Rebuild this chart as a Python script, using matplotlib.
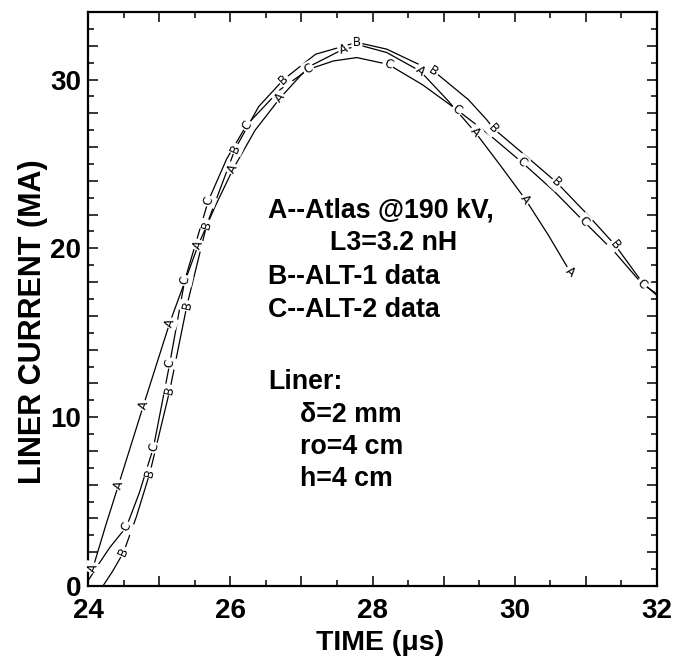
import numpy as np
import matplotlib
matplotlib.use("Agg")
import matplotlib.pyplot as plt

plt.rcParams['font.family'] = ['Liberation Sans', 'DejaVu Sans']

# ---- data ----
A_t = [24.05, 24.25, 24.43, 24.78, 25.15, 25.55, 25.80, 26.04, 26.35, 26.70, 27.10,
       27.59, 27.85, 28.20, 28.67, 29.05, 29.44, 29.80, 30.15, 30.47, 30.78]
A_i = [0.8, 3.6, 6.0, 10.7, 15.6, 20.2, 22.6, 24.7, 27.0, 28.9, 30.75,
       31.8, 32.0, 31.6, 30.5, 28.8, 26.9, 24.9, 22.9, 20.8, 18.6]

B_t = [24.21, 24.35, 24.50, 24.68, 24.87, 25.15, 25.39, 25.67, 26.07, 26.40, 26.75,
       27.20, 27.78, 28.20, 28.60, 28.86, 29.35, 29.61, 29.70, 30.15, 30.59, 31.00,
       31.41, 31.79, 32.00]
B_i = [0.0, 0.9, 2.0, 4.1, 6.7, 11.6, 16.6, 21.4, 25.9, 28.4, 30.0,
       31.5, 32.2, 31.8, 31.0, 30.5, 28.8, 27.6, 27.1, 25.5, 23.9, 22.1,
       20.2, 18.0, 17.2]

C_t = [24.00, 24.15, 24.31, 24.54, 24.72, 24.92, 25.15, 25.36, 25.69, 25.95, 26.23,
       26.70, 27.10, 27.45, 27.78, 28.22, 28.70, 29.19, 29.65, 30.10, 30.55, 30.97,
       31.40, 31.79, 32.00]
C_i = [0.3, 1.3, 2.3, 3.5, 5.5, 8.2, 13.2, 18.1, 22.8, 25.3, 27.3,
       29.4, 30.6, 31.1, 31.3, 30.9, 29.7, 28.2, 26.7, 25.1, 23.4, 21.6,
       19.8, 17.9, 17.3]

# positions (time) of the letter markers on each curve
A_marks = [24.07, 24.43, 24.78, 25.15, 25.55, 26.04, 26.70, 27.59, 28.67, 29.44, 30.15, 30.78]
B_marks = [24.50, 24.87, 25.15, 25.39, 25.67, 26.07, 26.75, 27.78, 28.86, 29.70, 30.59, 31.41]
C_marks = [24.54, 24.92, 25.15, 25.36, 25.69, 26.23, 27.10, 28.22, 29.19, 30.10, 30.97, 31.79]

x_tick_labels = ['24', '26', '28', '30', '32']
y_tick_labels = ['0', '10', '20', '30']

legend_lines = ['A--Atlas @190 kV,', 'L3=3.2 nH', 'B--ALT-1 data', 'C--ALT-2 data']
liner_lines = ['Liner:', '\u03b4=2 mm', 'ro=4 cm', 'h=4 cm']

# ---- figure ----
fig = plt.figure(figsize=(6.83, 6.66), dpi=100)
ax = fig.add_axes([88 / 683, 80 / 666, 569 / 683, 574 / 666])
ax.set_xlim(24, 32)
ax.set_ylim(0, 34)

series = [('A', A_t, A_i, A_marks), ('B', B_t, B_i, B_marks), ('C', C_t, C_i, C_marks)]
for name, t, i, marks in series:
    ax.plot(t, i, color='black', lw=0.9, zorder=2, solid_capstyle='butt')
    t = np.asarray(t)
    i = np.asarray(i)
    for m in marks:
        y = np.interp(m, t, i)
        h = 0.03
        y1 = np.interp(m - h, t, i)
        y2 = np.interp(m + h, t, i)
        ang = np.degrees(np.arctan2(y2 - y1, 2 * h))
        ax.text(m, y, name, fontsize=8.5, fontweight='normal', family=['DejaVu Sans'],
                ha='center', va='center', rotation=ang, rotation_mode='anchor',
                transform_rotates_text=True, zorder=4,
                bbox=dict(boxstyle='square,pad=0.12', fc='white', ec='none'))

# ticks
major_x = np.arange(24, 33, 1)
ax.set_xticks(major_x)
ax.set_xticklabels([str(int(v)) if str(int(v)) in x_tick_labels else '' for v in major_x])
ax.set_xticks(np.arange(24, 32.01, 0.5), minor=True)
major_y = np.arange(0, 34, 2)
ax.set_yticks(major_y)
ax.set_yticklabels([str(int(v)) if str(int(v)) in y_tick_labels else '' for v in major_y])
ax.set_yticks(np.arange(0, 34.01, 1), minor=True)

ax.tick_params(which='both', direction='in', top=True, right=True, width=1.1)
ax.tick_params(which='major', length=7.5, labelsize=20)
ax.tick_params(axis='x', which='major', pad=9)
ax.tick_params(axis='y', which='major', pad=5)
ax.tick_params(which='minor', length=4.5)
for lab in ax.get_xticklabels() + ax.get_yticklabels():
    lab.set_fontweight('bold')
for sp in ax.spines.values():
    sp.set_linewidth(1.6)

ax.set_xlabel('TIME (\u03bcs)', fontsize=20.5, fontweight='bold')
ax.set_ylabel('LINER CURRENT (MA)', fontsize=22, fontweight='bold')
ax.xaxis.set_label_coords((380 - 88) / 569, (586 - 630) / 574)
ax.yaxis.set_label_coords((48 - 88) / 569, (586 - 322) / 574)

# annotation block (positions in pixel-derived figure fractions)
leg_pos = [(268, 210), (330, 243), (268, 277), (268, 310)]
for txt, (px, py) in zip(legend_lines, leg_pos):
    fig.text(px / 683, 1 - py / 666, txt, fontsize=19.3, fontweight='bold',
             ha='left', va='center')
liner_pos = [(268, 382), (300, 415), (300, 447), (300, 479)]
for txt, (px, py) in zip(liner_lines, liner_pos):
    fig.text(px / 683, 1 - py / 666, txt, fontsize=19.3, fontweight='bold',
             ha='left', va='center')

fig.savefig('out.png', dpi=100)
